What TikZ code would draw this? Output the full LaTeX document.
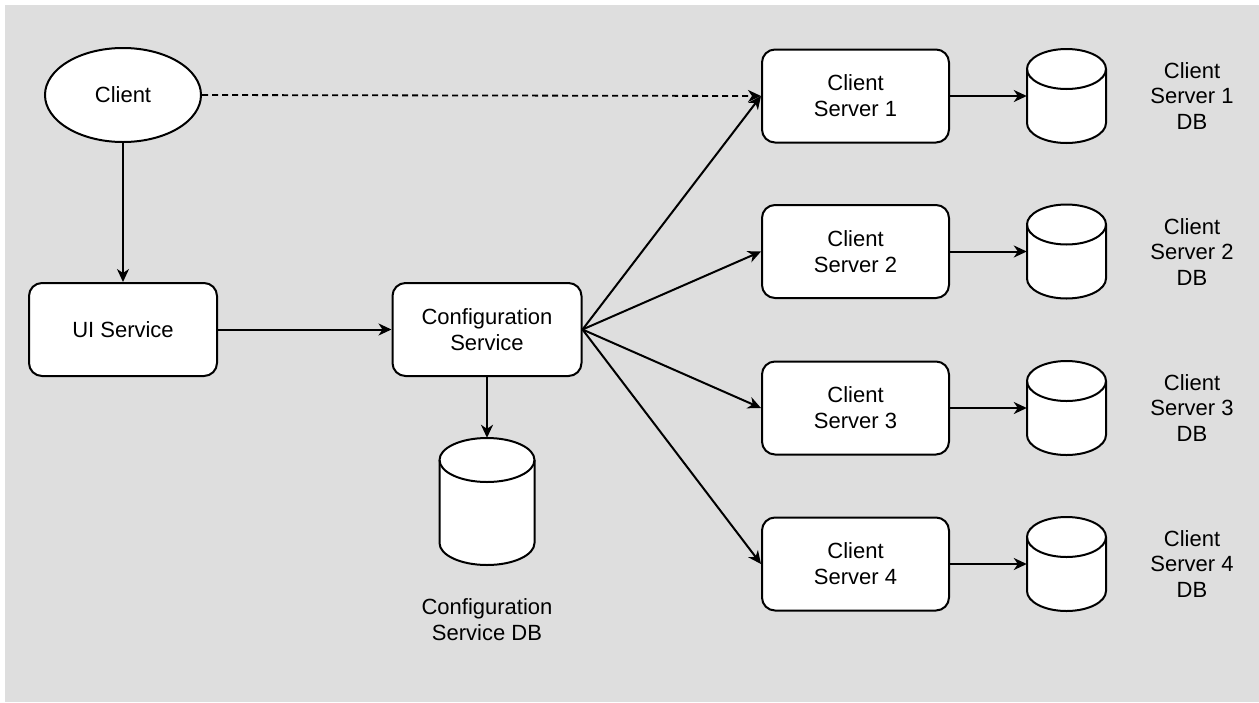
\documentclass[tikz,border=0pt]{standalone}
\usepackage{fontspec}
\setmainfont{Liberation Sans}
\usetikzlibrary{arrows.meta,shapes.geometric}
\definecolor{bgcol}{RGB}{222,222,222}
\newcommand\dfont{\fontsize{22}{25.8}\selectfont}
\tikzset{
  box/.style={draw=black, fill=white, line width=2pt, rounded corners=13pt, inner sep=0pt, align=center, font=\dfont},
  ell/.style={ellipse, draw=black, fill=white, line width=2pt, inner sep=0pt, font=\dfont},
  anchorbox/.style={rectangle, inner sep=0pt, draw=none},
  lbl/.style={align=center, font=\dfont, inner sep=0pt},
  conn/.style={line width=2pt, -{Stealth[length=13pt,width=12pt,inset=4pt]}},
  dconn/.style={line width=1.8pt, dash pattern=on 6pt off 4pt, -{Stealth[length=13pt,width=12pt,inset=4pt]}},
  cylstyle/.style={draw=black, fill=white, line width=2pt},
  pics/dbcyl/.style n args={3}{code={
    \path[cylstyle] (-#1/2,-#2/2+#3) -- (-#1/2,#2/2-#3)
      arc[start angle=180,end angle=0,x radius=#1/2,y radius=#3]
      -- (#1/2,-#2/2+#3)
      arc[start angle=0,end angle=-180,x radius=#1/2,y radius=#3] -- cycle;
    \draw[line width=2pt] (-#1/2,-#2/2+#3)
      arc[start angle=180,end angle=0,x radius=#1/2,y radius=#3];
  }}
}
\begin{document}
\begin{tikzpicture}[x=1pt,y=-1pt]
\useasboundingbox (0,0) rectangle (1259,702);
\fill[white] (0,0) rectangle (1259,702);
\fill[bgcol] (5,5) rectangle (1259,702);

% nodes
\node[ell, minimum width=156pt, minimum height=94pt] (client) at (123,95) {Client};
\node[box, minimum width=188pt, minimum height=93pt] (ui) at (123,329.5) {UI Service};
\node[box, minimum width=189pt, minimum height=93pt] (cfg) at (487,329.5) {Configuration\\Service};

\node[box, minimum width=187pt, minimum height=93pt] (s1) at (855.5,96) {Client\\Server 1};
\node[box, minimum width=187pt, minimum height=93pt] (s2) at (855.5,251.5) {Client\\Server 2};
\node[box, minimum width=187pt, minimum height=93pt] (s3) at (855.5,408) {Client\\Server 3};
\node[box, minimum width=187pt, minimum height=93pt] (s4) at (855.5,564) {Client\\Server 4};

% cylinders
\node[anchorbox, minimum width=95pt, minimum height=127pt] (cfgdb) at (487,501.5) {};
\pic at (487,501.5) {dbcyl={95}{127}{22}};
\node[lbl] (cfgdblbl) at (487,620) {Configuration\\Service DB};

\node[anchorbox, minimum width=79pt, minimum height=94pt] (db1) at (1066.5,96) {};
\pic at (1066.5,96) {dbcyl={79}{94}{20}};
\node[anchorbox, minimum width=79pt, minimum height=94pt] (db2) at (1066.5,251.5) {};
\pic at (1066.5,251.5) {dbcyl={79}{94}{20}};
\node[anchorbox, minimum width=79pt, minimum height=94pt] (db3) at (1066.5,408) {};
\pic at (1066.5,408) {dbcyl={79}{94}{20}};
\node[anchorbox, minimum width=79pt, minimum height=94pt] (db4) at (1066.5,564) {};
\pic at (1066.5,564) {dbcyl={79}{94}{20}};

\node[lbl] (l1) at (1192,96) {Client\\Server 1\\DB};
\node[lbl] (l2) at (1192,252) {Client\\Server 2\\DB};
\node[lbl] (l3) at (1192,408) {Client\\Server 3\\DB};
\node[lbl] (l4) at (1192,564) {Client\\Server 4\\DB};

% connectors
\draw[conn] (client.south) -- (ui.north);
\draw[conn] (ui.east) -- (cfg.west);
\draw[conn] (cfg.south) -- (cfgdb.north);
\draw[dconn] (client.east) -- (s1.west);
\draw[conn] (cfg.east) -- (s1.west);
\draw[conn] (cfg.east) -- (s2.west);
\draw[conn] (cfg.east) -- (s3.west);
\draw[conn] (cfg.east) -- (s4.west);
\draw[conn] (s1.east) -- (db1.west);
\draw[conn] (s2.east) -- (db2.west);
\draw[conn] (s3.east) -- (db3.west);
\draw[conn] (s4.east) -- (db4.west);
\end{tikzpicture}
\end{document}
